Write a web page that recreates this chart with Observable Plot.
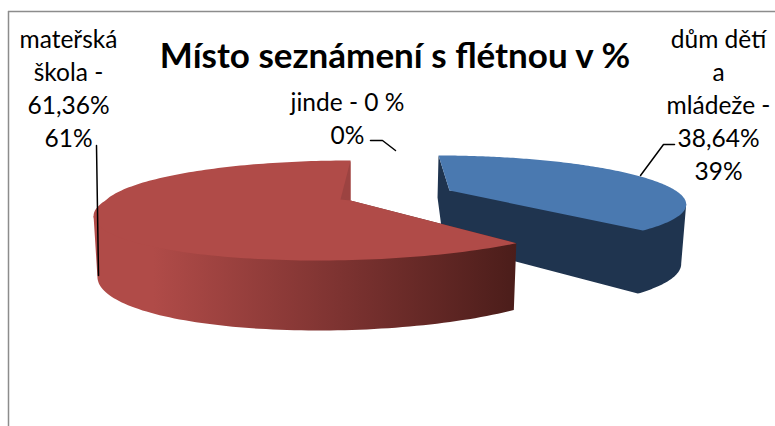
<!DOCTYPE html>
<html>
<head>
<meta charset="utf-8">
<style>html,body{margin:0;padding:0;background:#fff}svg{display:block}</style>
<script src="https://cdn.jsdelivr.net/npm/d3@7"></script>
<script src="https://cdn.jsdelivr.net/npm/@observablehq/plot@0.6"></script>
</head>
<body>
<div id="chart"></div>
<script>
// Data
const categories = ["dům dětí a mládeže", "jinde", "mateřská škola"];
const values = [38.64, 0, 61.36];
const titleText = "Místo seznámení s flétnou v %";
const labelLines = [
  "dům dětí\na\nmládeže -\n38,64%\n39%",
  "jinde - 0 %\n0%",
  "mateřská\nškola -\n61,36%\n61%"
];

// 3D look of each exploded slice
const W = 775, H = 426, FONT = "Lato, Carlito, sans-serif";
const looks = {
  blue: {cx: 449, cy: 190, a: 226, b: 43.4, k: 0.24, sB: -13.6, sF: -13.6, D: 57, E: 8, F: 15, dx: -5, dxB: -1, scale: 1},
  red:  {cx: 350, cy: 200, a: 245, b: 48, k: 0.2, sB: 0, sF: 26, D: 57, E: 13, F: 13, dx: 0, dxB: 0, scale: 0.985}
};
const top3d = (L, t) => {
  const u = Math.sin(t), v = Math.cos(t), w = 1 + L.k * v, s = v < 0 ? L.sF : L.sB;
  return {x: L.cx + (L.a * u + s * v) / w, y: L.cy - L.b * v / w, v};
};
const bottom3d = (L, t) => {
  const p = top3d(L, t);
  const depth = p.v < 0 ? L.D - L.E * p.v : L.D - L.F * p.v;
  const ox = p.v < 0 ? L.dx : L.dx + (L.dxB - L.dx) * p.v;
  return {x: L.cx + (p.x - L.cx) * L.scale + ox, y: p.y + depth};
};
const arcs = d3.pie().sort(null)(values);
const sweep = (a, n = 160) => d3.range(n + 1).map(i => a.startAngle + (a.endAngle - a.startAngle) * i / n);

// Blue slice
const bL = looks.blue, bT = sweep(arcs[0]);
const bTop = [{x: bL.cx, y: bL.cy}, ...bT.map(t => top3d(bL, t))];
const bMax = d3.greatest(bT, t => top3d(bL, t).x);
const bArc = bT.filter(t => t >= bMax);
const bWall = [
  top3d(bL, bT[0]), bottom3d(bL, bT[0]),
  {x: bL.cx - 6, y: bL.cy + 52},
  ...bArc.slice().reverse().map(t => bottom3d(bL, t)),
  top3d(bL, bMax), {x: bL.cx, y: bL.cy}
];

// Red slice
const rL = looks.red, rT = sweep(arcs[2]);
const rTop = [{x: rL.cx, y: rL.cy}, ...rT.map(t => top3d(rL, t))];
const rMin = d3.least(rT, t => top3d(rL, t).x);
const rArc = rT.filter(t => t <= rMin);
const rWall = [
  top3d(rL, rMin),
  ...rArc.slice().reverse().map(t => bottom3d(rL, t)),
  top3d(rL, rArc[0]), {x: rL.cx, y: rL.cy}
];
const rInner = [top3d(rL, 2 * Math.PI), {x: rL.cx - 10, y: rL.cy - 1}, {x: rL.cx, y: rL.cy}];

const gradient = () => {
  const defs = d3.create("svg:defs");
  const g = defs.append("linearGradient").attr("id", "redSide").attr("x1", 0).attr("x2", 1).attr("y1", 0).attr("y2", 0);
  [[0, "#b04b48"], [0.14, "#b04b48"], [0.6, "#7b3230"], [1, "#4b1d1a"]].forEach(([o, c]) =>
    g.append("stop").attr("offset", o).attr("stop-color", c));
  return defs.node();
};
const poly = (pts, fill) => Plot.line(pts, {x: "x", y: "y", fill, stroke: "none"});
const leader = pts => Plot.line(pts, {x: "x", y: "y", stroke: "#000", strokeWidth: 1.5, curve: "linear"});
const label = (text, x, y) => Plot.text([text], {
  x: () => x, y: () => y, text: d => d, fontSize: 24.5, lineHeight: 1.345, fill: "#000",
  textAnchor: "middle", frameAnchor: "middle", lineAnchor: "top", fontFamily: FONT
});

const chart = Plot.plot({
  width: W, height: H, margin: 0,
  x: {domain: [0, W], range: [0, W], axis: null},
  y: {domain: [0, H], range: [0, H], axis: null},
  marks: [
    gradient,
    Plot.ruleY([11], {x1: 8, x2: W, stroke: "#8c8c8c", strokeWidth: 1.5}),
    Plot.ruleX([8], {y1: 11, y2: H, stroke: "#8c8c8c", strokeWidth: 1.5}),
    poly(bWall, "#1f344f"),
    poly(bTop, "#4a79b0"),
    poly(rWall, "url(#redSide)"),
    poly(rTop, "#b04b48"),
    poly(rInner, "#9c4341"),
    leader([{x: 96, y: 145}, {x: 98, y: 275}]),
    leader([{x: 370, y: 140}, {x: 382, y: 140}, {x: 395, y: 150}]),
    leader([{x: 674, y: 144}, {x: 663, y: 144}, {x: 640, y: 175}]),
    Plot.text([titleText], {
      x: () => 394.5, y: () => 56, text: d => d, fontSize: 35, fontWeight: 700,
      fill: "#000", fontFamily: FONT, textAnchor: "middle"
    }),
    label(labelLines[2], 68, 24),
    label(labelLines[1], 347, 87),
    label(labelLines[0], 718, 24)
  ]
});
document.getElementById("chart").append(chart);
</script>
</body>
</html>
